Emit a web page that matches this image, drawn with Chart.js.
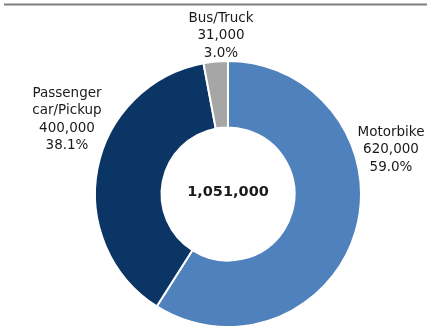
<!DOCTYPE html>
<html>
<head>
<meta charset="utf-8">
<script src="https://cdn.jsdelivr.net/npm/chart.js@4/dist/chart.umd.min.js"></script>
<style>
  html, body { margin: 0; padding: 0; background: #fff; }
  #wrap { position: relative; width: 427px; height: 331px; }
</style>
</head>
<body>
<div id="wrap"><canvas id="cuadro" width="427" height="331"></canvas></div>
<script>
const categorias = ["Motorbike", "Passenger car/Pickup", "Bus/Truck"];
const valores = [620000, 400000, 31000];
const porcentajes = ["59.0%", "38.1%", "3.0%"];
const total = "1,051,000";

const colores = ["#4F81BD", "#0B3564", "#A6A6A6"];

// where each label block sits (center x, first line y) and its lines
const etiquetas = [
  { x: 391, y: 132, lineas: ["Motorbike"] },
  { x: 67, y: 93, lineas: ["Passenger", "car/Pickup"] },
  { x: 221, y: 18, lineas: ["Bus/Truck"] }
];

function fmt(n) {
  return n.toLocaleString("en-US");
}

const textos = {
  id: "textos",
  afterDraw(chart) {
    const c = chart.ctx;
    c.save();
    // grey rule across the top
    c.strokeStyle = "#7f7f7f";
    c.lineWidth = 2;
    c.beginPath();
    c.moveTo(4, 4.5);
    c.lineTo(427, 4.5);
    c.stroke();

    c.fillStyle = "#1a1a1a";
    c.textAlign = "center";
    c.textBaseline = "middle";
    c.font = "13.5px 'DejaVu Sans'";
    for (let i = 0; i < etiquetas.length; i++) {
      const e = etiquetas[i];
      const lineas = e.lineas.concat([fmt(valores[i]), porcentajes[i]]);
      for (let j = 0; j < lineas.length; j++) {
        c.fillText(lineas[j], e.x, e.y + j * 17.5);
      }
    }

    const arc = chart.getDatasetMeta(0).data[0];
    c.font = "bold 14.5px 'DejaVu Sans'";
    c.fillText(total, arc.x, arc.y - 2);
    c.restore();
  }
};

const cuadro = new Chart(document.getElementById("cuadro"), {
  type: "doughnut",
  data: {
    labels: categorias,
    datasets: [{
      data: valores,
      backgroundColor: colores,
      borderColor: "#ffffff",
      borderWidth: 2
    }]
  },
  options: {
    responsive: false,
    animation: false,
    cutout: "50%",
    layout: { padding: { top: 60, bottom: 3, left: 94, right: 65 } },
    plugins: {
      legend: { display: false },
      tooltip: { enabled: false }
    }
  },
  plugins: [textos]
});
</script>
</body>
</html>
